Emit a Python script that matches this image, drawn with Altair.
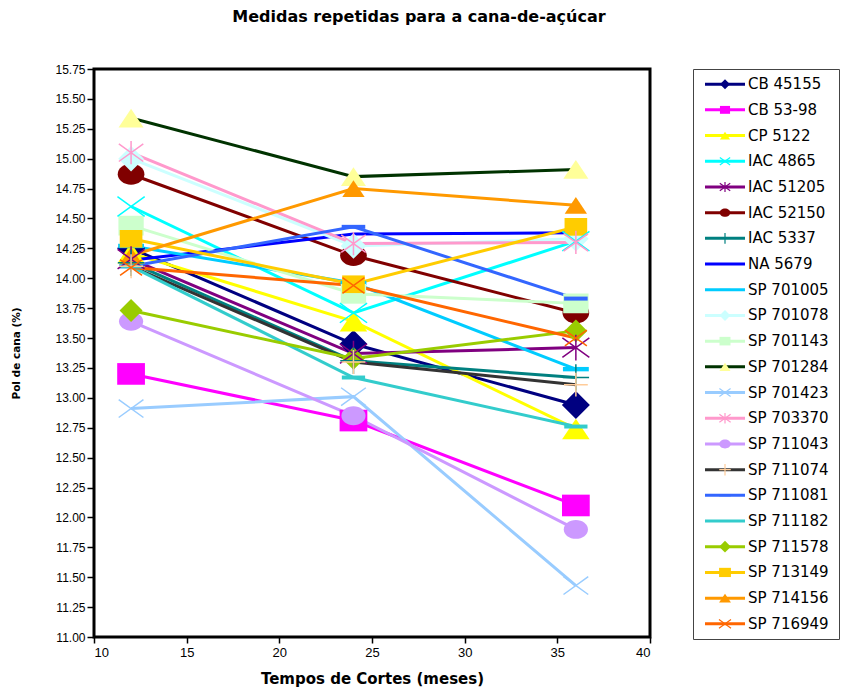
import altair as alt
import pandas as pd

series = ["CB 45155", "CB 53-98", "CP 5122", "IAC 4865", "IAC 51205", "IAC 52150",
          "IAC 5337", "NA 5679", "SP 701005", "SP 701078", "SP 701143", "SP 701284",
          "SP 701423", "SP 703370", "SP 711043", "SP 711074", "SP 711081", "SP 711182",
          "SP 711578", "SP 713149", "SP 714156", "SP 716949"]
times = [12, 24, 36]
v12 = [14.25, 13.20, 14.21, 14.60, 14.16, 14.87, 14.13, 14.15, 14.27, 15.00, 14.44, 15.34,
       12.91, 15.05, 13.64, 14.10, 14.10, 14.10, 13.73, 14.33, 14.19, 14.09]
v24 = [13.45, 12.81, 13.64, 13.71, 13.37, 14.19, 13.31, 14.37, 13.96, 14.27, 13.87, 14.85,
       13.01, 14.29, 12.85, 13.30, 14.43, 13.17, 13.33, 13.95, 14.75, 13.94]
v36 = [12.94, 12.10, 12.74, 14.31, 13.42, 13.71, 13.17, 14.38, 13.24, 14.33, 13.79, 14.91,
       11.43, 14.30, 11.90, 13.11, 13.83, 12.76, 13.56, 14.43, 14.61, 13.50]

y_ticks = [11.00, 11.25, 11.50, 11.75, 12.00, 12.25, 12.50, 12.75, 13.00, 13.25, 13.50,
           13.75, 14.00, 14.25, 14.50, 14.75, 15.00, 15.25, 15.50, 15.75]
x_ticks = [10, 15, 20, 25, 30, 35, 40]

# styles
line_colors = ["#000080", "#FF00FF", "#FFFF00", "#00FFFF", "#800080", "#800000", "#008080",
               "#0000FF", "#00CCFF", "#CCFFFF", "#CCFFCC", "#003300", "#99CCFF", "#FF99CC",
               "#CC99FF", "#333333", "#3366FF", "#33CCCC", "#99CC00", "#FFCC00", "#FF9900",
               "#FF6600"]
marker_colors = ["#000080", "#FF00FF", "#FFFF00", "#00FFFF", "#800080", "#800000", "#008080",
                 "#0000FF", "#00CCFF", "#CCFFFF", "#CCFFCC", "#FFFF99", "#99CCFF", "#FF99CC",
                 "#CC99FF", "#FFCC99", "#3366FF", "#33CCCC", "#99CC00", "#FFCC00", "#FF9900",
                 "#FF6600"]
kinds = ["diamond", "square", "triangle", "x", "asterisk", "circle", "plus", "none", "dash",
         "diamond", "square", "triangle", "x", "asterisk", "circle", "plus", "dash", "dash",
         "diamond", "square", "triangle", "x"]
marker_px = [28, 22, 28, 19, 16, 15, 13, 0, 28, 17, 16, 29, 28, 18, 19, 15, 10, 28, 18, 16, 18, 17]
legend_px = [10, 12, 12, 11, 11, 11, 11, 0, 0, 10, 12, 12, 11, 11, 11, 11, 0, 0, 10, 12, 12, 11]

paths = {
    "diamond": "M0,-1L1,0L0,1L-1,0Z",
    "square": "M-1,-0.78L1,-0.78L1,0.78L-1,0.78Z",
    "triangle": "M0,-0.75L1,0.75L-1,0.75Z",
    "circle": "M-1,0A1,0.78 0 1,0 1,0A1,0.78 0 1,0 -1,0Z",
    "dash": "M-1,-0.17L1,-0.17L1,0.17L-1,0.17Z",
    "x": "M-1,-0.72L1,0.72M-1,0.72L1,-0.72",
    "asterisk": "M-1,-0.72L1,0.72M-1,0.72L1,-0.72M0,-0.95L0,0.95",
    "plus": "M-1,0L1,0M0,-1L0,1",
    "none": "M0,0",
}
shape_range = [paths[k] for k in kinds]
filled_series = [s for s, k in zip(series, kinds) if k in ("diamond", "square", "triangle", "circle", "dash")]
stroked_series = [s for s, k in zip(series, kinds) if k in ("x", "asterisk", "plus")]

rows = []
for i, s in enumerate(series):
    for t, v in zip(times, [v12[i], v24[i], v36[i]]):
        rows.append({"series": s, "t": t, "value": v})
df = pd.DataFrame(rows)
leg_df = pd.DataFrame({"series": series})

FONT = "Liberation Sans"
WFONT = "DejaVu Sans"

color_scale = alt.Scale(domain=series, range=line_colors)
fill_scale = alt.Scale(domain=series, range=marker_colors)
shape_scale = alt.Scale(domain=series, range=shape_range)
size_scale = alt.Scale(domain=series, range=[p * p for p in marker_px])
lsize_scale = alt.Scale(domain=series, range=[p * p for p in legend_px])

x_enc = alt.X("t:Q", scale=alt.Scale(domain=[10, 40], nice=False),
              axis=alt.Axis(values=x_ticks, format="d", grid=False, domain=False,
                            tickColor="black", tickSize=6, tickWidth=1.5,
                            labelFont=FONT, labelFontSize=13, labelColor="black", labelPadding=3,
                            title="Tempos de Cortes (meses)", titleFont=WFONT, titleFontSize=15,
                            titleFontWeight="bold", titleColor="black", titlePadding=12))
y_enc = alt.Y("value:Q", scale=alt.Scale(domain=[11, 15.75], nice=False, zero=False),
              axis=alt.Axis(values=y_ticks, format=".2f", grid=False, domain=False,
                            tickColor="black", tickSize=7, tickWidth=1.5,
                            labelFont=FONT, labelFontSize=12, labelColor="black", labelPadding=2,
                            title="Pol de cana (%)", titleFont=WFONT, titleFontSize=10.5,
                            titleFontWeight="bold", titleColor="black", titlePadding=33))

base = alt.Chart(df).encode(x=x_enc, y=y_enc)
lines = base.mark_line(strokeWidth=3).encode(
    color=alt.Color("series:N", scale=color_scale, legend=None),
    detail="series:N")
pts_fill = base.transform_filter(alt.FieldOneOfPredicate(field="series", oneOf=filled_series)).mark_point(
    filled=True, opacity=1).encode(
    fill=alt.Fill("series:N", scale=fill_scale, legend=None),
    shape=alt.Shape("series:N", scale=shape_scale, legend=None),
    size=alt.Size("series:N", scale=size_scale, legend=None))
pts_stroke = base.transform_filter(alt.FieldOneOfPredicate(field="series", oneOf=stroked_series)).mark_point(
    filled=False, opacity=1, strokeWidth=1.5).encode(
    stroke=alt.Stroke("series:N", scale=fill_scale, legend=None),
    shape=alt.Shape("series:N", scale=shape_scale, legend=None),
    size=alt.Size("series:N", scale=size_scale, legend=None))

main = alt.layer(lines, pts_fill, pts_stroke).properties(
    width=556, height=568,
    view=alt.ViewBackground(stroke="black", strokeWidth=3))

ly = alt.Y("series:N", sort=series,
           scale=alt.Scale(type="point", domain=series, padding=0.59), axis=None)
lbase = alt.Chart(leg_df).encode(y=ly)
l_rule = lbase.mark_rule(strokeWidth=3).encode(
    x=alt.value(12), x2=alt.value(52),
    color=alt.Color("series:N", scale=color_scale, legend=None))
l_fill = lbase.transform_filter(alt.FieldOneOfPredicate(field="series", oneOf=filled_series)).mark_point(
    filled=True, opacity=1).encode(
    x=alt.value(32),
    fill=alt.Fill("series:N", scale=fill_scale, legend=None),
    shape=alt.Shape("series:N", scale=shape_scale, legend=None),
    size=alt.Size("series:N", scale=lsize_scale, legend=None))
l_stroke = lbase.transform_filter(alt.FieldOneOfPredicate(field="series", oneOf=stroked_series)).mark_point(
    filled=False, opacity=1, strokeWidth=1.2).encode(
    x=alt.value(32),
    stroke=alt.Stroke("series:N", scale=fill_scale, legend=None),
    shape=alt.Shape("series:N", scale=shape_scale, legend=None),
    size=alt.Size("series:N", scale=lsize_scale, legend=None))
l_text = lbase.mark_text(align="left", baseline="middle", font=WFONT, fontSize=15,
                         color="black").encode(x=alt.value(55), text="series:N")
legend = alt.layer(l_rule, l_fill, l_stroke, l_text).properties(
    width=146, height=570,
    view=alt.ViewBackground(stroke="#444444", strokeWidth=1))

chart = alt.hconcat(main, legend, spacing=39).resolve_scale(
    size="independent").properties(
    title=alt.TitleParams("Medidas repetidas para a cana-de-açúcar", font=WFONT, fontSize=16,
                          fontWeight="bold", color="black", anchor="middle", offset=37, dx=-6),
    background="white",
    padding={"left": 10, "top": 8, "right": 0, "bottom": 0})

chart.save("out.html", embed_options={"renderer": "svg", "actions": False})
